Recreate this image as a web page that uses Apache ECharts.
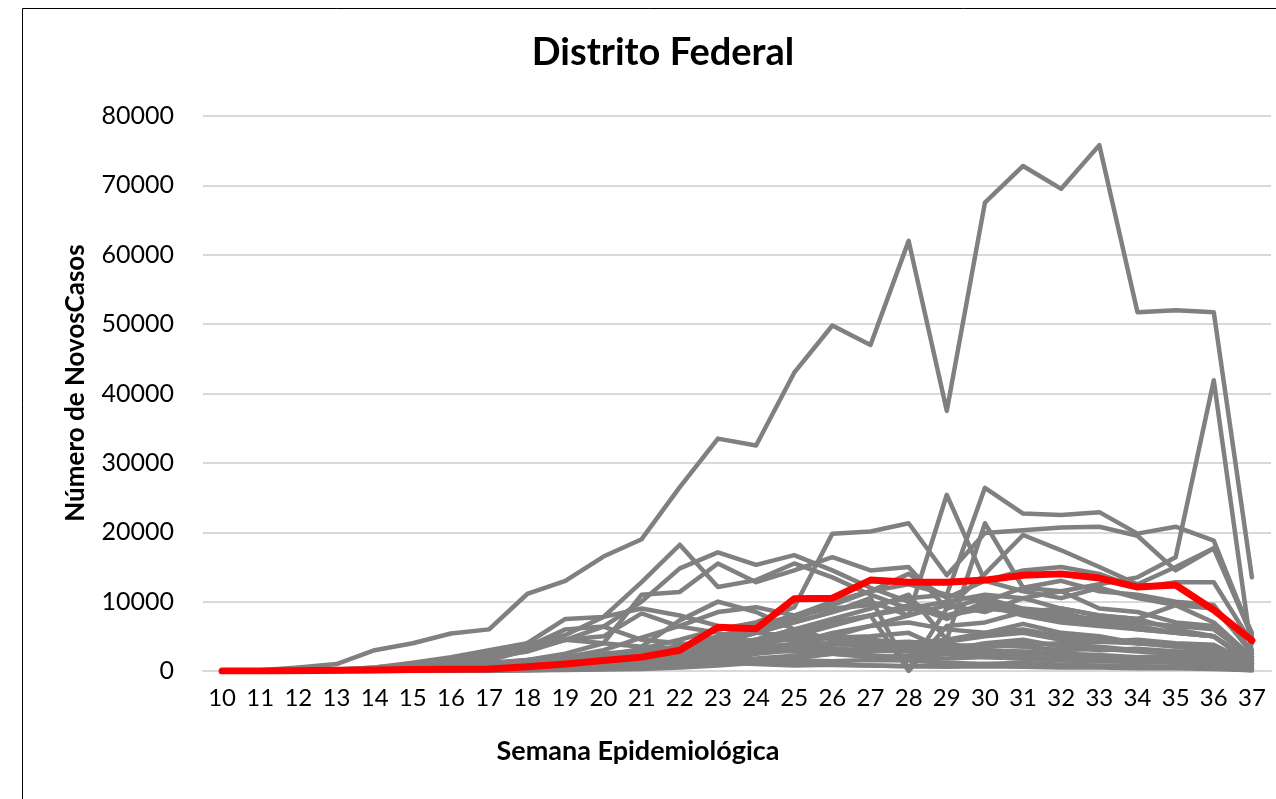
<!DOCTYPE html>
<html>
<head>
<meta charset="utf-8">
<script src="https://cdn.jsdelivr.net/npm/echarts@6/dist/echarts.min.js"></script>
<style>html,body{margin:0;padding:0;background:#fff;}#c{width:1276px;height:799px;}</style>
</head>
<body>
<div id="c"></div>
<script>
// Semanas epidemiológicas
var weeks = ['10','11','12','13','14','15','16','17','18','19','20','21','22','23','24','25','26','27','28','29','30','31','32','33','34','35','36','37'];
var yTicks = [0,10000,20000,30000,40000,50000,60000,70000,80000];

// Distrito Federal (destaque)
var df = [0,0,50,100,150,200,250,300,600,1000,1500,2000,3000,6300,6100,10400,10500,13100,12800,12800,13100,13800,14000,13400,12100,12400,8800,4400];

// Demais unidades federativas (cinza)
var s01 = [0,100,500,1000,3000,4000,5400,6000,11100,13000,16500,19000,26500,33500,32500,43000,49800,47000,62000,37500,67500,72800,69500,75800,51700,52000,51700,13500];
var s02 = [0,0,50,200,500,1000,1600,2400,3600,5200,7800,12800,18200,12100,13100,15500,13500,11000,9000,8000,9500,8000,7000,6500,6000,5500,5000,1500];
var s03 = [0,0,50,200,400,800,1300,1900,2800,4500,6400,10000,14800,17100,15300,16700,14500,12000,10000,8000,9000,8500,8000,7500,7000,6500,6000,2000];
var s04 = [0,0,0,50,100,200,400,600,1000,1500,2200,3200,4500,6000,7000,9200,19800,20100,21300,13800,19900,20300,20700,20800,19500,14500,17700,5500];
var s05 = [0,0,0,20,50,100,200,300,500,800,1200,1800,2800,4000,5500,7000,8500,10000,8000,25400,13000,11500,10500,12000,10500,9500,9000,3000];
var s06 = [0,0,0,50,100,200,300,500,800,1200,1800,2600,3600,5000,6500,8000,10000,11500,12500,11000,26400,22700,22500,22900,19800,20800,18800,5000];
var s07 = [0,0,0,20,50,100,200,300,500,700,1000,1500,2200,3200,4500,6000,7500,9000,11000,4500,21300,12000,13000,11500,11000,10000,9500,2500];
var s08 = [0,0,0,20,50,100,150,250,400,600,900,1300,2000,3000,4000,5500,7000,8000,9000,10000,11000,10500,11500,12500,13500,16400,41900,2500];
var s09 = [0,0,0,100,200,400,700,1000,1600,2500,4000,11000,11400,15500,12800,14500,16400,14500,15000,9000,14000,19600,17400,15000,12500,15000,17700,5000];
var s10 = [0,0,0,100,500,1200,2000,3000,4000,4500,4000,3500,7300,10000,8500,6000,4500,4000,3500,3000,3500,3800,4000,4200,4500,4000,3800,1000];
var s11 = [0,0,0,50,200,500,1000,2000,4000,7500,7800,9000,8000,6500,5500,5000,4800,4500,4000,4200,5000,5500,4500,4200,4000,3800,3500,1500];
var s12 = [0,0,0,100,300,800,1500,2500,3500,6000,6400,4500,4000,3500,3000,3200,3000,2800,3500,2500,3000,2800,2500,2300,2000,2200,2000,800];
var s13 = [0,0,0,0,100,300,800,1500,3000,4500,5000,8300,6400,5500,4000,3000,2500,2000,2200,2500,2000,1800,1600,1500,1400,1600,1500,500];
var s14 = [0,0,0,50,100,300,500,800,1200,2000,3000,4800,6500,8500,9200,8000,9000,9500,10500,11000,10000,12000,11500,9000,8500,7000,6500,2000];
var s15 = [0,0,0,50,100,200,300,400,600,900,1300,2000,3000,4500,6000,7500,9500,11500,14000,10500,13000,14500,15000,14000,12000,12800,12800,4000];
var s16 = [0,0,0,0,50,100,150,200,300,500,800,1200,2000,3500,4500,6000,7000,8000,9500,7500,10000,8500,7500,7000,6000,5500,5000,1500];
var s17 = [0,0,0,50,100,150,200,250,300,400,600,900,1300,2000,2800,4000,5500,6500,8000,9500,8500,10500,9000,8000,7500,6000,5000,1000];
var s18 = [0,0,50,100,200,300,400,500,700,1000,1500,2000,3000,4000,5500,7000,8500,10500,300,9000,10500,9000,8500,7000,6500,5500,5000,1200];
var s19 = [0,0,0,50,100,150,200,300,400,500,700,1000,1500,2500,3500,5000,6500,8000,0,6500,7000,8500,9000,8000,7500,9500,7000,2000];
var s20 = [0,0,0,50,200,400,800,1200,1600,2000,2500,3000,3500,4000,4200,4500,4800,5000,5500,3000,4000,4500,3500,3000,3200,2800,2500,800];
var s21 = [0,0,0,0,50,100,200,400,800,1200,1800,2500,3500,4000,4500,5000,4800,4200,4000,3500,3800,3500,3000,3200,2800,2500,2300,600];
var s22 = [0,0,0,20,50,100,200,400,600,900,1300,1800,2500,3000,3500,3800,4000,3500,3000,2500,2200,2000,1800,1600,1500,1300,1200,400];
var s23 = [0,0,0,0,20,50,100,200,400,800,1200,1800,2500,3200,3000,2800,2500,2200,2000,1800,2000,1800,1500,1400,1300,1200,1000,300];
var s24 = [0,0,0,0,20,50,100,150,200,400,700,1200,2000,3000,3500,3800,4000,3500,3200,2800,2500,2200,1800,1500,1400,1300,1200,400];
var s25 = [0,0,0,0,20,50,100,200,300,500,800,1200,1800,2500,3000,3500,3800,4000,4200,3800,3500,4000,3800,3500,3000,2800,2500,800];
var s26 = [0,0,0,0,20,50,80,100,150,200,300,500,900,1500,2500,3500,5000,6500,7000,6000,5500,6800,5500,5000,4000,3500,3000,1000];
var s27 = [0,0,0,0,20,30,50,80,100,150,200,300,500,800,1200,1800,2500,3500,4000,4500,5500,6000,5000,4500,4000,3800,3500,1000];
var s28 = [0,0,0,0,10,20,50,100,200,400,700,1000,1500,2000,2500,3000,3200,3000,2800,2500,3000,2500,2200,2000,1800,1700,1500,500];
var s29 = [0,0,0,0,10,20,30,50,100,200,400,600,1000,1400,1800,2200,2500,2800,3000,2800,2500,2700,2400,2000,1800,1600,1500,400];
var s30 = [0,0,0,10,50,100,300,600,1000,1500,1800,2000,1500,1200,1000,800,900,800,700,800,1000,1200,900,800,700,600,500,200];
var s31 = [0,0,0,10,20,50,100,200,400,600,800,1200,1500,1800,1600,1500,1400,1600,1500,1200,1000,900,800,700,600,500,500,100];
var s32 = [0,0,0,10,20,50,100,150,300,500,800,1000,1200,1300,1200,1000,900,800,700,600,700,600,500,500,400,400,300,100];

var grayList = [s32,s31,s30,s29,s28,s27,s26,s25,s24,s23,s22,s21,s20,s19,s18,s17,s16,s15,s14,s13,s12,s11,s10,s09,s08,s07,s06,s05,s04,s03,s02,s01];

var series = grayList.map(function (d) {
  return {
    type: 'line', data: d, symbol: 'none', silent: true,
    lineStyle: { color: '#808080', width: 4.5, join: 'round', cap: 'round' },
    z: 2
  };
});
series.push({
  type: 'line', data: df, symbol: 'none', silent: true, name: 'Distrito Federal',
  lineStyle: { color: '#ff0000', width: 7, join: 'round', cap: 'round' },
  z: 5
});

var chart = echarts.init(document.getElementById('c'), null, { renderer: 'canvas' });
chart.setOption({
  animation: false,
  backgroundColor: '#ffffff',
  grid: { left: 203, right: 5, top: 116, bottom: 128, containLabel: false },
  xAxis: {
    type: 'category', data: weeks, boundaryGap: true,
    axisLine: { show: true, lineStyle: { color: '#d9d9d9', width: 2 } },
    axisTick: { show: false },
    axisLabel: { interval: 0, margin: 15, color: '#000', fontFamily: 'Lato, sans-serif', fontSize: 24 }
  },
  yAxis: {
    type: 'value', min: 0, max: 80000, interval: 10000,
    axisLine: { show: false }, axisTick: { show: false },
    axisLabel: { margin: 29, color: '#000', fontFamily: 'Lato, sans-serif', fontSize: 25,
      formatter: function (v) { return yTicks.indexOf(v) >= 0 ? String(v) : ''; } },
    splitLine: { lineStyle: { color: '#d9d9d9', width: 2 } }
  },
  graphic: [
    { type: 'rect', shape: { x: 22.5, y: 8.5, width: 1400, height: 1000 }, style: { fill: 'none', stroke: '#000', lineWidth: 1 }, silent: true, z: 0 },
    { type: 'text', x: 663, y: 53, style: { text: 'Distrito Federal', align: 'center', verticalAlign: 'middle', textAlign: 'center', textVerticalAlign: 'middle', font: 'bold 38px Lato, sans-serif', fill: '#000' }, silent: true },
    { type: 'text', x: 638, y: 751, style: { text: 'Semana Epidemiológica', align: 'center', verticalAlign: 'middle', textAlign: 'center', textVerticalAlign: 'middle', font: 'bold 27px Lato, sans-serif', fill: '#000' }, silent: true },
    { type: 'text', x: 76, y: 383, rotation: Math.PI / 2, style: { text: 'Número de NovosCasos', align: 'center', verticalAlign: 'middle', textAlign: 'center', textVerticalAlign: 'middle', font: 'bold 26px Lato, sans-serif', fill: '#000' }, silent: true }
  ],
  series: series
});
</script>
</body>
</html>
